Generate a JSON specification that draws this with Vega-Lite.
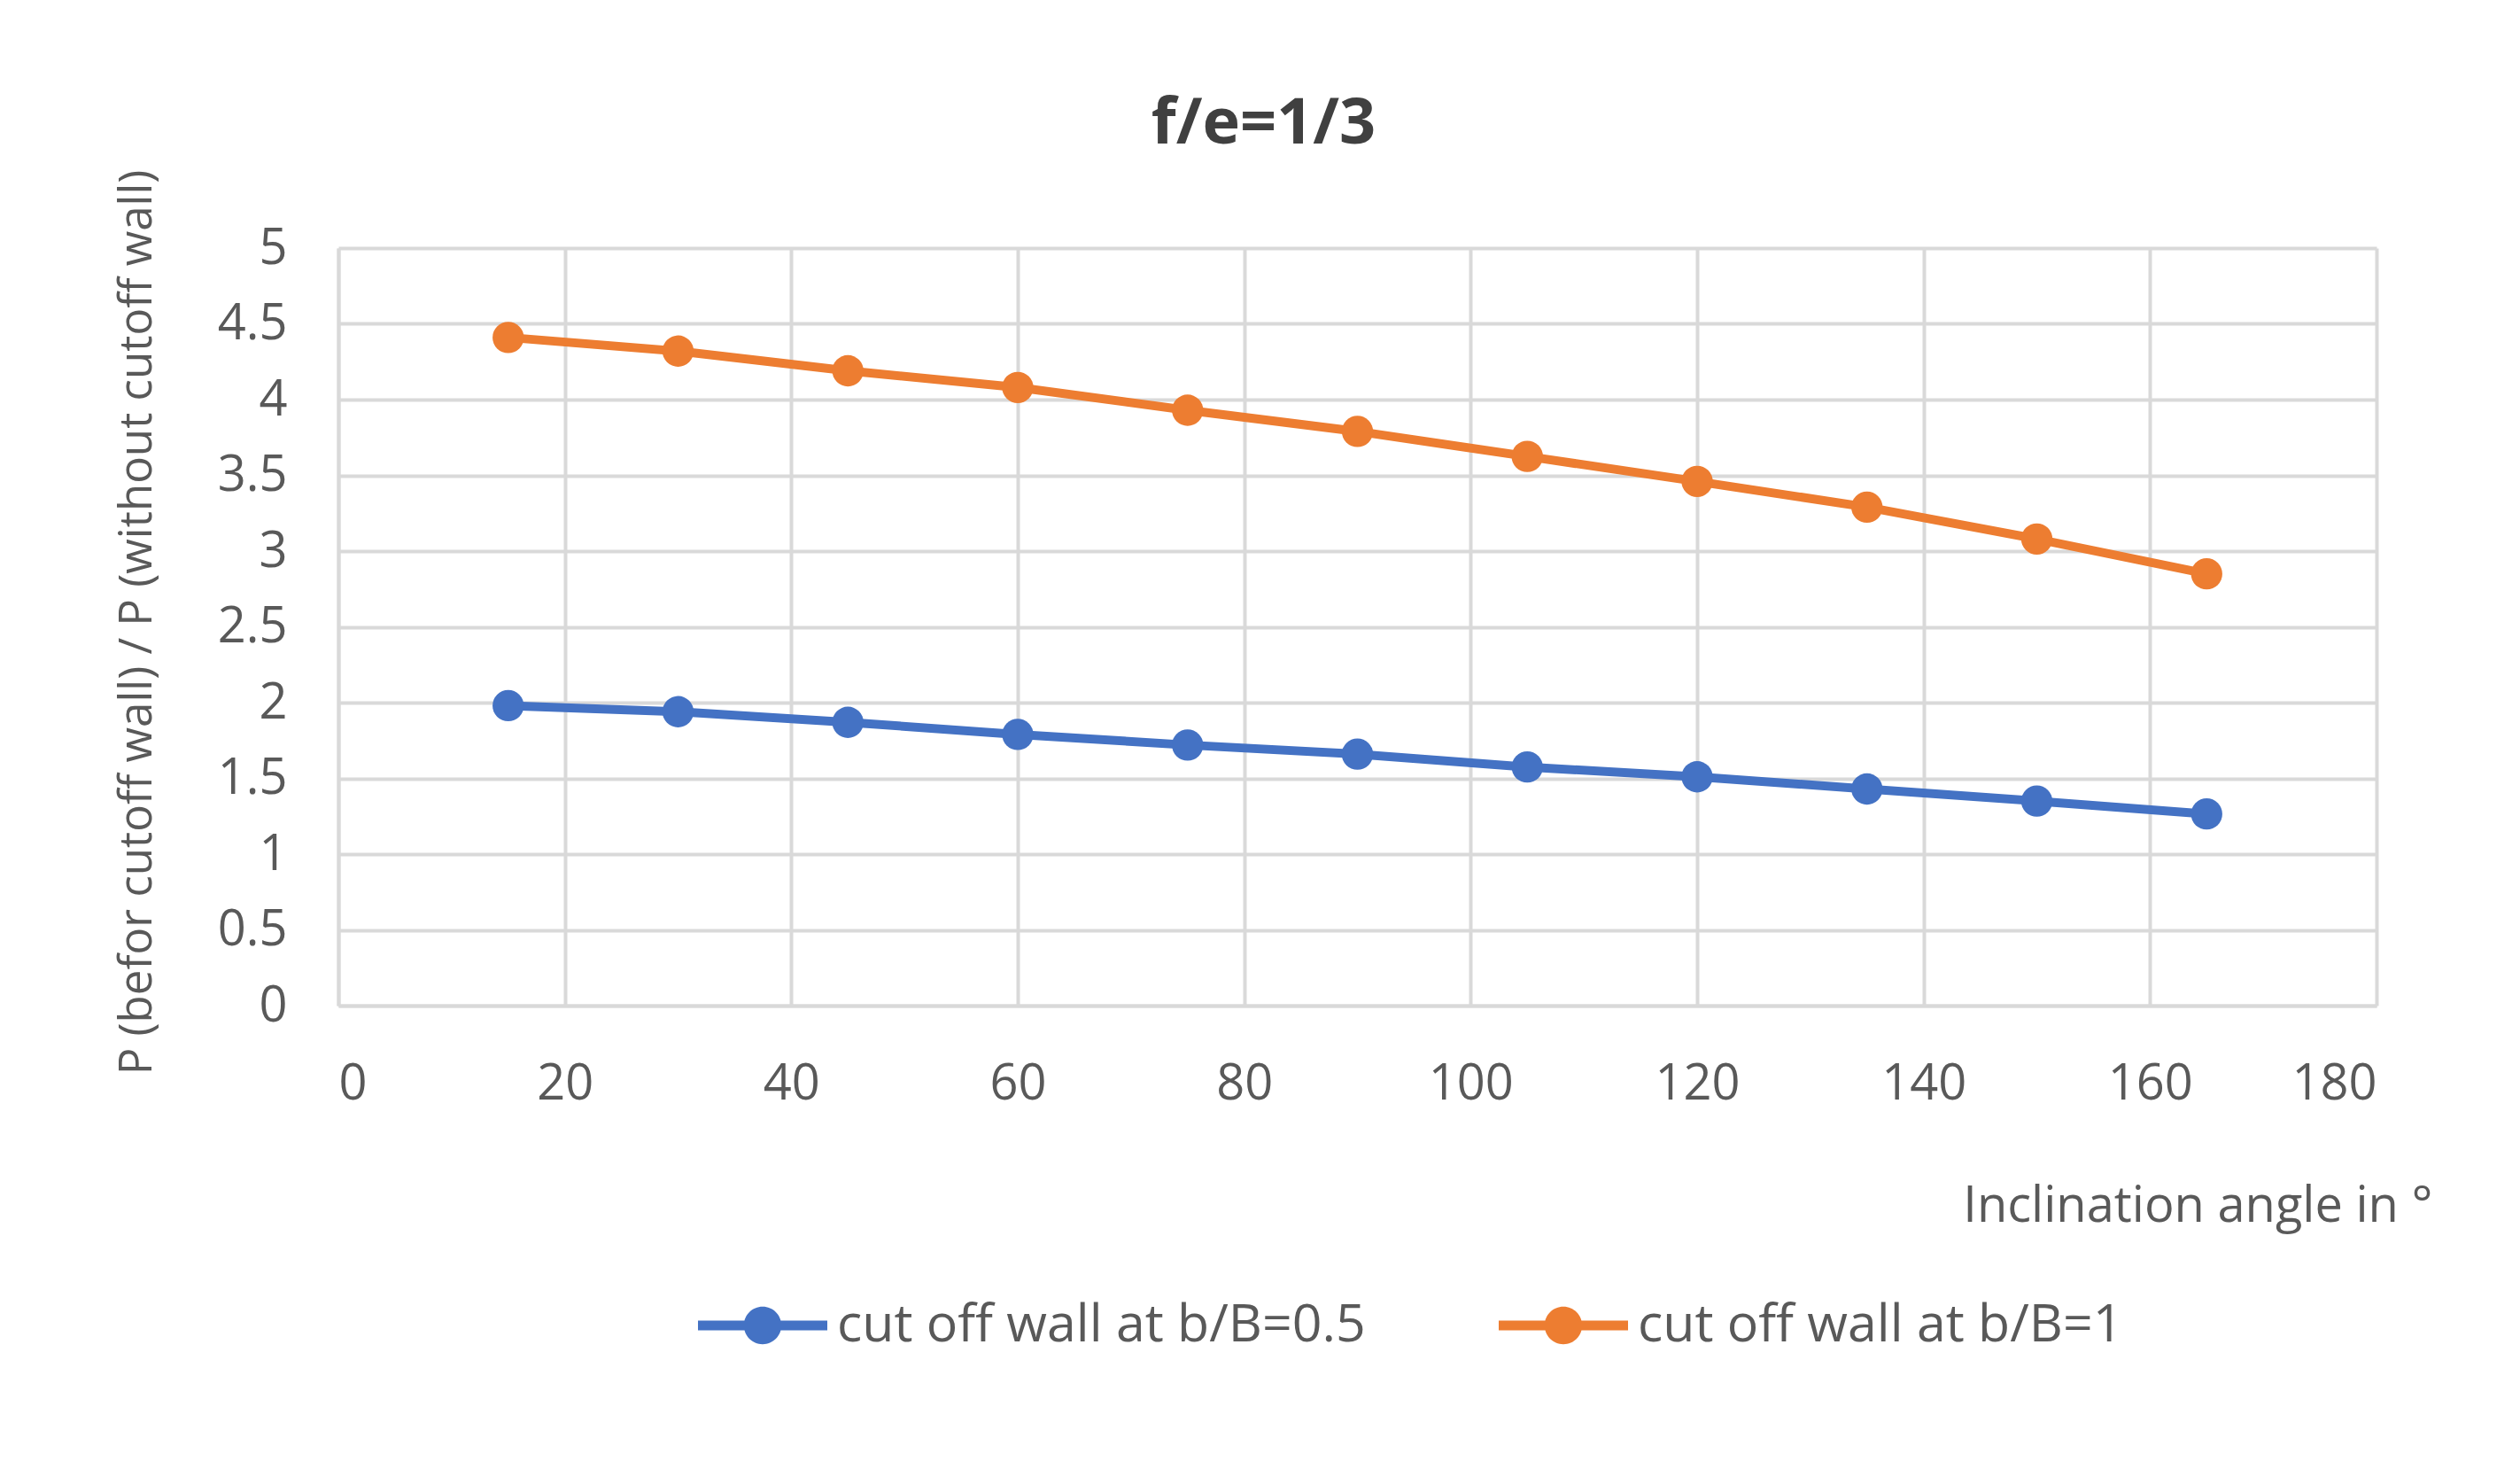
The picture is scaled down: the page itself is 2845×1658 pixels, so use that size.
{
  "$schema": "https://vega.github.io/schema/vega-lite/v6.json",
  "autosize": "none",
  "width": 2301,
  "height": 855,
  "padding": {"left": 382, "top": 280, "right": 162, "bottom": 523},
  "background": "white",
  "title": {
    "text": "f/e=1/3",
    "fontSize": 72,
    "fontWeight": "bold",
    "color": "#404040",
    "anchor": "middle",
    "dx": -106,
    "offset": 14
  },
  "data": {
    "values": [
      {"angle": 15, "series": "cut off wall at b/B=0.5", "ratio": 1.98},
      {"angle": 30, "series": "cut off wall at b/B=0.5", "ratio": 1.94},
      {"angle": 45, "series": "cut off wall at b/B=0.5", "ratio": 1.87},
      {"angle": 60, "series": "cut off wall at b/B=0.5", "ratio": 1.79},
      {"angle": 75, "series": "cut off wall at b/B=0.5", "ratio": 1.72},
      {"angle": 90, "series": "cut off wall at b/B=0.5", "ratio": 1.66},
      {"angle": 105, "series": "cut off wall at b/B=0.5", "ratio": 1.575},
      {"angle": 120, "series": "cut off wall at b/B=0.5", "ratio": 1.51},
      {"angle": 135, "series": "cut off wall at b/B=0.5", "ratio": 1.43},
      {"angle": 150, "series": "cut off wall at b/B=0.5", "ratio": 1.35},
      {"angle": 165, "series": "cut off wall at b/B=0.5", "ratio": 1.265},
      {"angle": 15, "series": "cut off wall at b/B=1", "ratio": 4.41},
      {"angle": 30, "series": "cut off wall at b/B=1", "ratio": 4.32},
      {"angle": 45, "series": "cut off wall at b/B=1", "ratio": 4.19},
      {"angle": 60, "series": "cut off wall at b/B=1", "ratio": 4.08},
      {"angle": 75, "series": "cut off wall at b/B=1", "ratio": 3.93},
      {"angle": 90, "series": "cut off wall at b/B=1", "ratio": 3.79},
      {"angle": 105, "series": "cut off wall at b/B=1", "ratio": 3.625},
      {"angle": 120, "series": "cut off wall at b/B=1", "ratio": 3.46},
      {"angle": 135, "series": "cut off wall at b/B=1", "ratio": 3.29},
      {"angle": 150, "series": "cut off wall at b/B=1", "ratio": 3.08},
      {"angle": 165, "series": "cut off wall at b/B=1", "ratio": 2.85}
    ]
  },
  "encoding": {
    "x": {
      "field": "angle",
      "type": "quantitative",
      "scale": {"domain": [0, 180], "nice": false, "zero": false},
      "axis": {
        "values": [0, 20, 40, 60, 80, 100, 120, 140, 160, 180],
        "title": "Inclination angle in °",
        "titleX": 2364,
        "titleY": 226,
        "titleAlign": "right",
        "titleBaseline": "middle",
        "titleFontSize": 56,
        "labelPadding": 61
      }
    },
    "y": {
      "field": "ratio",
      "type": "quantitative",
      "scale": {"domain": [0, 5], "nice": false},
      "axis": {
        "values": [0, 0.5, 1, 1.5, 2, 2.5, 3, 3.5, 4, 4.5, 5],
        "format": "~g",
        "title": "P (befor cutoff wall) / P (without cutoff wall)",
        "titleX": -227,
        "titleY": 422,
        "titleAlign": "center",
        "titleBaseline": "middle",
        "titleFontSize": 51,
        "titleLimit": 2000,
        "labelPadding": 58
      }
    },
    "color": {
      "field": "series",
      "type": "nominal",
      "scale": {
        "domain": ["cut off wall at b/B=0.5", "cut off wall at b/B=1"],
        "range": ["#4472C4", "#ED7D31"]
      },
      "legend": {
        "title": null,
        "orient": "none",
        "direction": "horizontal",
        "legendX": 406,
        "legendY": 1143,
        "symbolType": "M-1,-0.075L1,-0.075L1,0.075L-1,0.075Z M0.29,0A0.29,0.29,0,1,1,-0.29,0A0.29,0.29,0,1,1,0.29,0Z",
        "symbolSize": 21316,
        "symbolStrokeWidth": 0,
        "symbolOpacity": 1,
        "labelOffset": 11,
        "labelLimit": 2000,
        "columnPadding": 150,
        "labelFontSize": 59,
        "encode": {
          "symbols": {
            "update": {
              "fill": {"scale": "color", "field": "value"},
              "stroke": {"value": "transparent"},
              "opacity": {"value": 1}
            }
          }
        }
      }
    }
  },
  "layer": [
    {"mark": {"type": "line", "strokeWidth": 10}},
    {"mark": {"type": "point", "filled": true, "size": 1250, "opacity": 1}}
  ],
  "config": {
    "font": "Open Sans",
    "view": {"stroke": null},
    "axis": {
      "labelFont": "Open Sans",
      "titleFont": "Open Sans",
      "labelFontSize": 56,
      "labelColor": "#595959",
      "titleColor": "#595959",
      "titleFontWeight": "normal",
      "ticks": false,
      "grid": true,
      "gridColor": "#d9d9d9",
      "gridWidth": 4,
      "domainColor": "#d9d9d9",
      "domainWidth": 4
    },
    "legend": {
      "labelFont": "Open Sans",
      "labelColor": "#595959"
    },
    "title": {"font": "Open Sans"}
  }
}
